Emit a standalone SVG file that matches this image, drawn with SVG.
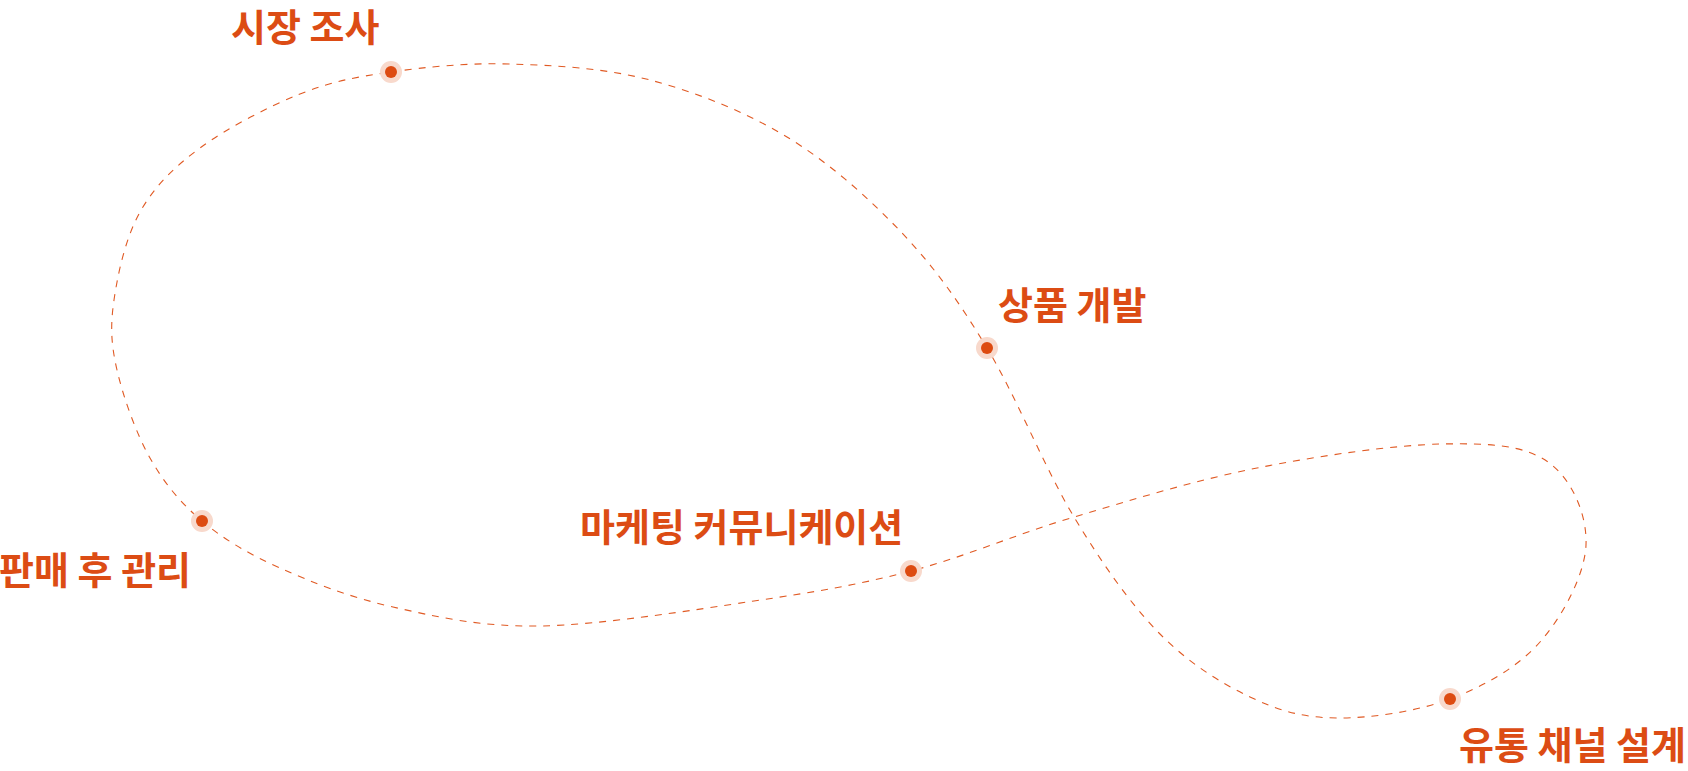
<svg xmlns="http://www.w3.org/2000/svg" width="1688" height="771" viewBox="0 0 1688 771">
<style>
.lbl{font-family:"Noto Sans CJK KR","Noto Sans",sans-serif;font-weight:700;font-size:38px;fill:#dc4c14}
.halo{fill:#f8d9cc}
.core{fill:#dd4b11}
.path{fill:none;stroke:#e05a24;stroke-width:1.1;stroke-dasharray:7 7}
</style>
<rect width="1688" height="771" fill="#ffffff"/>
<g id="connectors">
<path class="path" d="M391,72 C426,67 466.8,62.7 510,64 C553.2,65.3 603.8,67.8 650,80 C696.2,92.2 745,111.5 787,137 C829,162.5 868.7,197.8 902,233 C935.3,268.2 958.3,300.7 987,348 C1015.7,395.3 1045.3,469.5 1074,517 C1102.7,564.5 1129.7,603 1159,633 C1188.3,663 1220.3,682.8 1250,697 C1279.7,711.2 1303.7,717.7 1337,718 C1370.3,718.3 1416.2,711.7 1450,699 C1483.8,686.3 1517.3,667.7 1540,642 C1562.7,616.3 1584.7,575 1586,545 C1587.3,515 1572,478.8 1548,462 C1524,445.2 1490.5,443 1442,444 C1393.5,445 1318.3,455.8 1257,468 C1195.7,480.2 1131.7,499.8 1074,517 C1016.3,534.2 964.3,557 911,571 C857.7,585 815.8,591.8 754,601 C692.2,610.2 600.2,625 540,626 C479.8,627 436.3,616.7 393,607 C349.7,597.3 311.8,582.3 280,568 C248.2,553.7 223.7,539.3 202,521 C180.3,502.7 164.2,483.2 150,458 C135.8,432.8 123,396.3 117,370 C111,343.7 110.2,326.3 114,300 C117.8,273.7 125.7,237.3 140,212 C154.3,186.7 173.3,167.7 200,148 C226.7,128.3 268.2,106.7 300,94 C331.8,81.3 356,77 391,72 Z"/>
</g>
<g id="node-market-research">
<circle class="halo" cx="391" cy="72" r="11"/>
<circle class="core" cx="391" cy="72" r="6"/>
<text class="lbl" x="231" y="41">시장 조사</text>
</g>
<g id="node-product-dev">
<circle class="halo" cx="987" cy="348" r="11"/>
<circle class="core" cx="987" cy="348" r="6"/>
<text class="lbl" x="998" y="319">상품 개발</text>
</g>
<g id="node-distribution">
<circle class="halo" cx="1450" cy="699" r="11"/>
<circle class="core" cx="1450" cy="699" r="6"/>
<text class="lbl" x="1459" y="759">유통 채널 설계</text>
</g>
<g id="node-marketing">
<circle class="halo" cx="911" cy="571" r="11"/>
<circle class="core" cx="911" cy="571" r="6"/>
<text class="lbl" x="580" y="541">마케팅 커뮤니케이션</text>
</g>
<g id="node-after-sales">
<circle class="halo" cx="202" cy="521" r="11"/>
<circle class="core" cx="202" cy="521" r="6"/>
<text class="lbl" x="-1" y="584">판매 후 관리</text>
</g>
</svg>
